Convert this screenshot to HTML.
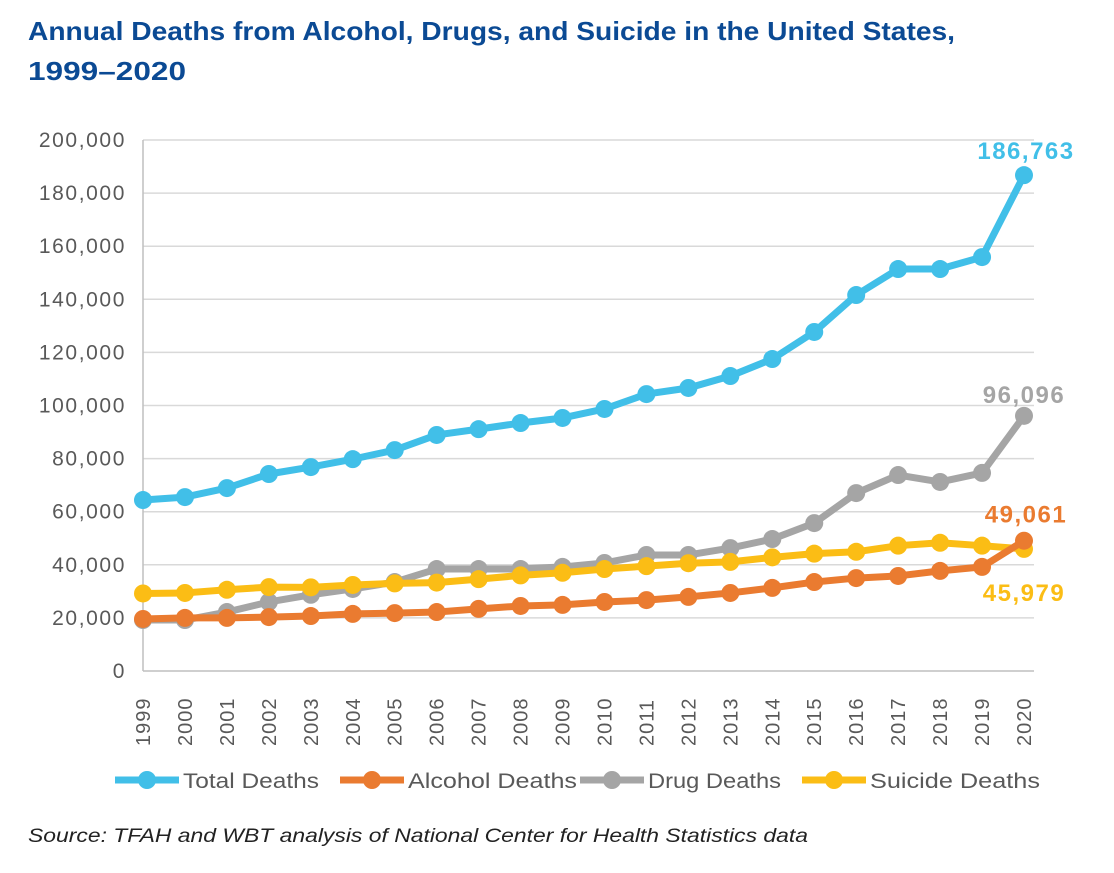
<!DOCTYPE html>
<html><head><meta charset="utf-8"><style>
body{margin:0;background:#fff;width:1114px;height:868px;overflow:hidden;font-family:"Liberation Sans",sans-serif}
</style></head><body>
<svg id="c" width="1114" height="868">
<text x="28" y="40" font-size="26" font-weight="bold" fill="#0b4a94" textLength="927" lengthAdjust="spacingAndGlyphs">Annual Deaths from Alcohol, Drugs, and Suicide in the United States,</text>
<text x="28" y="80" font-size="26" font-weight="bold" fill="#0b4a94" textLength="158" lengthAdjust="spacingAndGlyphs">1999–2020</text>
<text x="28" y="842" font-size="19" font-style="italic" fill="#222" textLength="780" lengthAdjust="spacingAndGlyphs">Source: TFAH and WBT analysis of National Center for Health Statistics data</text>
<g id="grid"></g><g id="lines"></g><g id="legend"></g>
</svg>
<script>
const years=[1999,2000,2001,2002,2003,2004,2005,2006,2007,2008,2009,2010,2011,2012,2013,2014,2015,2016,2017,2018,2019,2020];
const totalDeaths=[64400,65500,68900,74200,76800,79800,83200,88900,91100,93400,95300,98700,104300,106600,111100,117500,127700,141600,151400,151400,155900,186763];
const drugDeaths=[19200,19200,22200,26000,28700,30900,33500,38400,38400,38400,39200,40700,43700,43700,46300,49700,55700,67000,73800,71200,74600,96096];
const alcoholDeaths=[19600,20000,20000,20300,20700,21500,21800,22200,23400,24500,24900,26000,26700,27900,29400,31300,33500,35000,35800,37700,39200,49061];
const suicideDeaths=[29200,29400,30600,31600,31500,32400,33000,33300,34600,36000,37000,38400,39500,40600,41100,42800,44200,44900,47200,48300,47200,45979];
const yTicks=[0,20000,40000,60000,80000,100000,120000,140000,160000,180000,200000];
const NS="http://www.w3.org/2000/svg";
const x0=143,x1=1024,yb=671,yt=140;
const X=i=>x0+(x1-x0)*i/(years.length-1);
const Y=v=>yb-(yb-yt)*v/200000;
function mk(t,a,p){const e=document.createElementNS(NS,t);for(const k in a)e.setAttribute(k,a[k]);p.appendChild(e);return e;}
const g=document.getElementById('grid');
yTicks.forEach(v=>{
 const l=mk('line',{x1:x0,x2:x1+10,y1:Y(v),y2:Y(v),stroke:v?'#d9d9d9':'#bfbfbf','stroke-width':1.5},g);
 
 
 const t=mk('text',{x:126,y:Y(v)+7,'text-anchor':'end','font-size':21,'letter-spacing':1.6,fill:'#595959'},g);
 t.textContent=v.toLocaleString('en-US');
 
 
});
const ax=mk('line',{x1:x0,x2:x0,y1:yt,y2:yb,stroke:'#bfbfbf','stroke-width':1.5},g);


years.forEach((yr,i)=>{
 const t=mk('text',{transform:`translate(${X(i)+7},746) rotate(-90)`,'font-size':20,'letter-spacing':1,fill:'#595959'},g);
 t.textContent=yr;
 
 
});
const series=[
 ['total-deaths',totalDeaths,'#41bfe8'],
 ['drug-deaths',drugDeaths,'#a5a5a5'],
 ['suicide-deaths',suicideDeaths,'#fbbd15'],
 ['alcohol-deaths',alcoholDeaths,'#ea7b30']];
const L=document.getElementById('lines');
series.forEach(([n,d,c])=>{
 const p=mk('polyline',{points:d.map((v,i)=>X(i)+','+Y(v)).join(' '),fill:'none',stroke:c,'stroke-width':7,'stroke-linejoin':'round'},L);
 
 
 d.forEach((v,i)=>{
  const m=mk('circle',{cx:X(i),cy:Y(v),r:9,fill:c},L);
  
  
 });
});
const labels=[[totalDeaths,'#41bfe8',-16,1026],[drugDeaths,'#a5a5a5',-13,1024],[alcoholDeaths,'#ea7b30',-18,1026],[suicideDeaths,'#fbbd15',52,1024]];
labels.forEach(([d,c,dy,lx])=>{
 const v=d[d.length-1];
 const t=mk('text',{x:lx,y:Y(v)+dy,'text-anchor':'middle','font-size':24,'font-weight':'bold','letter-spacing':1.5,fill:c},L);
 t.textContent=v.toLocaleString('en-US');
 
 
});
const leg=[['Total Deaths','#41bfe8',115,136],['Alcohol Deaths','#ea7b30',340,169],['Drug Deaths','#a5a5a5',580,133],['Suicide Deaths','#fbbd15',802,170]];
const LG=document.getElementById('legend');
leg.forEach(([n,c,x,w])=>{
 const gg=mk('g',{},LG);
 
 
 mk('line',{x1:x,x2:x+64,y1:780,y2:780,stroke:c,'stroke-width':7},gg);
 mk('circle',{cx:x+32,cy:780,r:9,fill:c},gg);
 const t=mk('text',{x:x+68,y:788,'font-size':21,fill:'#595959',textLength:w,lengthAdjust:'spacingAndGlyphs'},gg);
 t.textContent=n;
});
</script>
</body></html>
